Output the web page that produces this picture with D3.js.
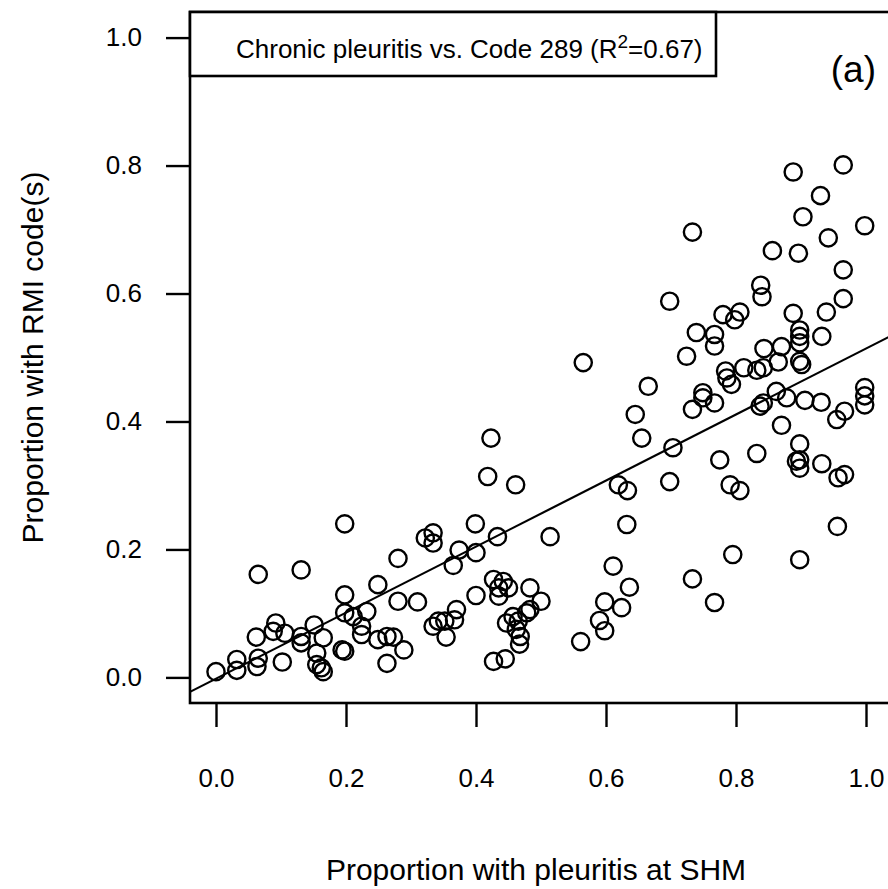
<!DOCTYPE html>
<html>
<head>
<meta charset="utf-8">
<script src="https://d3js.org/d3.v7.min.js"></script>
<style>
  body { margin: 0; background: #fff; }
  text { font-family: "Liberation Sans", Arial, sans-serif; fill: #000; }
</style>
</head>
<body>
<div id="my_dataviz"></div>

<script>

// x = proportion with pleuritis at SHM, y = proportion with RMI code(s)
var shmProp = [
  0.198, 0.065, 0.131, 0.198, 0.249, 0.232, 0.198, 0.211, 0.224, 0.224,
  0.249, 0.263, 0.263, 0.194, 0.198, 0.151, 0.165, 0.155, 0.155, 0.165,
  0.162, 0.131, 0.131, 0.092, 0.088, 0.106, 0.062, 0.032, 0.032, 0.065,
  0.063, 0.102, 0.000,
  0.423, 0.418, 0.461, 0.399, 0.514, 0.433, 0.334, 0.322, 0.334, 0.374,
  0.400, 0.365, 0.280, 0.280, 0.310, 0.400, 0.427, 0.442, 0.450, 0.435,
  0.435, 0.483, 0.500, 0.483, 0.478, 0.370, 0.367, 0.352, 0.342, 0.334,
  0.354, 0.457, 0.447, 0.465, 0.462, 0.468, 0.467, 0.427, 0.445, 0.273,
  0.289, 0.561,
  0.565, 0.665, 0.645, 0.655, 0.703, 0.619, 0.633, 0.698, 0.632, 0.611,
  0.636, 0.598, 0.624, 0.590, 0.598, 0.733, 0.767, 0.724, 0.739, 0.767,
  0.767, 0.733, 0.749, 0.749, 0.767, 0.784, 0.786, 0.775, 0.791, 0.795,
  0.733, 0.698, 0.780,
  0.888, 0.965, 0.930, 0.903, 0.998, 0.942, 0.856, 0.896, 0.965, 0.838,
  0.840, 0.965, 0.888, 0.939, 0.806, 0.798, 0.898, 0.898, 0.898, 0.932,
  0.843, 0.870, 0.865, 0.898, 0.901, 0.842, 0.832, 0.812, 0.793, 0.862,
  0.878, 0.842, 0.837, 0.906, 0.931, 0.967, 0.955, 0.998, 0.998, 0.998,
  0.870, 0.898, 0.832, 0.898, 0.893, 0.898, 0.932, 0.957, 0.967, 0.806,
  0.956, 0.898
];
var rmiProp = [
  0.240, 0.161, 0.168, 0.129, 0.145, 0.103, 0.101, 0.095, 0.080, 0.067,
  0.059, 0.064, 0.022, 0.043, 0.041, 0.082, 0.062, 0.038, 0.020, 0.009,
  0.015, 0.064, 0.054, 0.085, 0.072, 0.069, 0.063, 0.028, 0.011, 0.030,
  0.017, 0.024, 0.009,
  0.374, 0.314, 0.301, 0.240, 0.220, 0.220, 0.226, 0.218, 0.210, 0.199,
  0.195, 0.175, 0.186, 0.119, 0.118, 0.128, 0.153, 0.150, 0.140, 0.140,
  0.127, 0.140, 0.119, 0.106, 0.101, 0.106, 0.090, 0.088, 0.088, 0.080,
  0.063, 0.095, 0.085, 0.088, 0.075, 0.064, 0.052, 0.025, 0.029, 0.063,
  0.043, 0.056,
  0.492, 0.455, 0.411, 0.374, 0.359, 0.301, 0.292, 0.306, 0.239, 0.174,
  0.141, 0.118, 0.109, 0.089, 0.073, 0.154, 0.117, 0.502, 0.539, 0.536,
  0.518, 0.419, 0.445, 0.437, 0.429, 0.479, 0.468, 0.340, 0.301, 0.192,
  0.696, 0.588, 0.567,
  0.790, 0.801, 0.753, 0.720, 0.706, 0.687, 0.667, 0.663, 0.637, 0.613,
  0.595, 0.592, 0.569, 0.571, 0.571, 0.559, 0.543, 0.533, 0.523, 0.533,
  0.514, 0.517, 0.493, 0.494, 0.489, 0.484, 0.480, 0.484, 0.458, 0.447,
  0.437, 0.429, 0.424, 0.433, 0.430, 0.416, 0.403, 0.453, 0.440, 0.426,
  0.394, 0.365, 0.350, 0.340, 0.338, 0.327, 0.334, 0.312, 0.317, 0.292,
  0.236, 0.184
];

// fitted regression line
var fitIntercept = -0.002;
var fitSlope = 0.516;

var tickValues = [0.0, 0.2, 0.4, 0.6, 0.8, 1.0];
var legendLabel = "Chronic pleuritis vs. Code 289 (R";
var legendR2 = "=0.67)";
var panelLabel = "(a)";
var xTitle = "Proportion with pleuritis at SHM";
var yTitle = "Proportion with RMI code(s)";

var data = shmProp.map(function(d, i) { return { x: d, y: rmiProp[i] }; });

// plot region (R style box)
var W = 888, H = 889;
var box = { left: 190, top: 12, right: 892, bottom: 703 };

var svg = d3.select("#my_dataviz")
  .append("svg")
    .attr("width", W)
    .attr("height", H);

svg.append("rect")
    .attr("width", W).attr("height", H)
    .style("fill", "#fff");

var x = d3.scaleLinear()
  .domain([-0.04, 1.04])
  .range([box.left, box.right]);
var y = d3.scaleLinear()
  .domain([-0.04, 1.04])
  .range([box.bottom, box.top]);

svg.append("clipPath").attr("id", "plotclip")
  .append("rect")
    .attr("x", box.left).attr("y", box.top)
    .attr("width", box.right - box.left)
    .attr("height", box.bottom - box.top);

// points
svg.append("g")
    .attr("clip-path", "url(#plotclip)")
  .selectAll("circle")
  .data(data)
  .enter().append("circle")
    .attr("cx", function(d) { return x(d.x); })
    .attr("cy", function(d) { return y(d.y); })
    .attr("r", 8.6)
    .style("fill", "none")
    .style("stroke", "#000")
    .style("stroke-width", 2.4);

// regression line
var xs = x.domain();
svg.append("line")
    .attr("clip-path", "url(#plotclip)")
    .attr("x1", x(xs[0])).attr("y1", y(fitIntercept + fitSlope * xs[0]))
    .attr("x2", x(xs[1])).attr("y2", y(fitIntercept + fitSlope * xs[1]))
    .style("stroke", "#000")
    .style("stroke-width", 2.2);

// axes
var yAxis = svg.append("g")
    .attr("transform", "translate(" + box.left + ",0)")
    .call(d3.axisLeft(y).tickValues(tickValues).tickFormat(d3.format(".1f"))
      .tickSize(24).tickSizeOuter(0).tickPadding(24));
var xAxis = svg.append("g")
    .attr("transform", "translate(0," + box.bottom + ")")
    .call(d3.axisBottom(x).tickValues(tickValues).tickFormat(d3.format(".1f"))
      .tickSize(24).tickSizeOuter(0).tickPadding(42));

[xAxis, yAxis].forEach(function(a) {
  a.select(".domain").remove();
  a.selectAll(".tick line").style("stroke", "#000").style("stroke-width", 2.4);
  a.selectAll(".tick text")
    .style("font-family", "'Liberation Sans', Arial, sans-serif")
    .style("font-size", "26px")
    .style("fill", "#000");
});

// box around plot
svg.append("rect")
    .attr("x", box.left).attr("y", box.top)
    .attr("width", box.right - box.left)
    .attr("height", box.bottom - box.top)
    .style("fill", "none")
    .style("stroke", "#000")
    .style("stroke-width", 2.6);

// legend box
svg.append("rect")
    .attr("x", box.left).attr("y", box.top)
    .attr("width", 716 - box.left)
    .attr("height", 76 - box.top)
    .style("fill", "#fff")
    .style("stroke", "#000")
    .style("stroke-width", 2.6);

var leg = svg.append("text")
    .attr("x", 236).attr("y", 58)
    .style("font-size", "26px");
leg.append("tspan").text(legendLabel);
leg.append("tspan").attr("dy", -10).style("font-size", "19px").text("2");
leg.append("tspan").attr("dy", 10).text(legendR2);

svg.append("text")
    .attr("x", 876).attr("y", 82)
    .attr("text-anchor", "end")
    .style("font-size", "37px")
    .text(panelLabel);

// axis titles
svg.append("text")
    .attr("x", 536).attr("y", 880)
    .attr("text-anchor", "middle")
    .style("font-size", "30px")
    .text(xTitle);
svg.append("text")
    .attr("transform", "translate(43," + (box.top + box.bottom) / 2 + ") rotate(-90)")
    .attr("text-anchor", "middle")
    .style("font-size", "30px")
    .text(yTitle);

</script>
</body>
</html>
